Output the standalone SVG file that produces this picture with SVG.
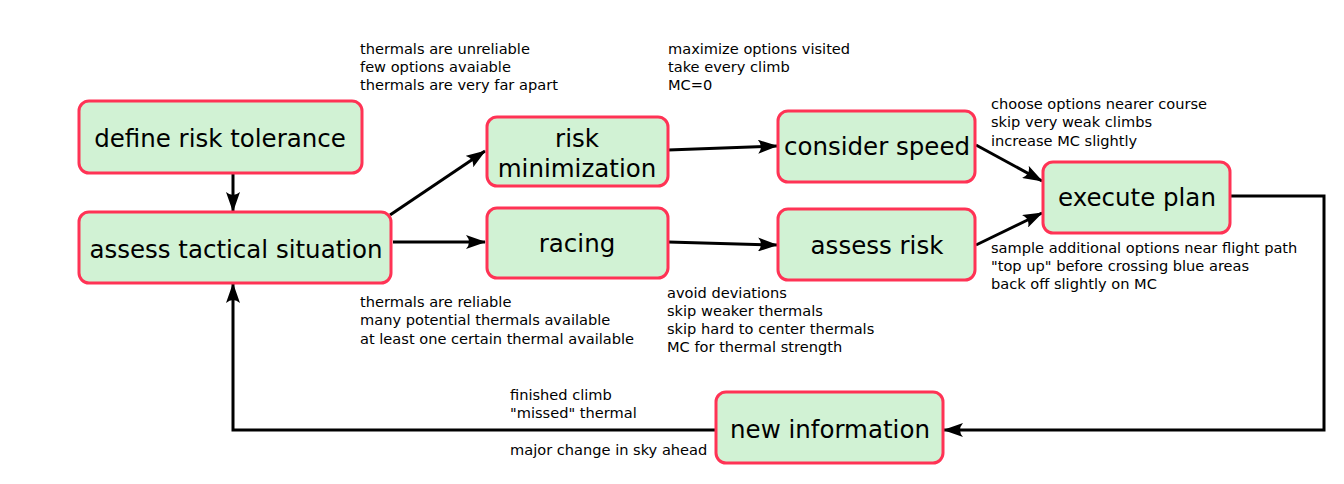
<svg xmlns="http://www.w3.org/2000/svg" width="1344" height="484" viewBox="0 0 1344 484">
<defs>
<style>
.n rect{fill:#d1f2d4;stroke:#ff3355;stroke-width:3}
.n text{font-family:"DejaVu Sans",sans-serif;font-size:24.5px;fill:#000;text-anchor:middle}
.c path{fill:none;stroke:#000;stroke-width:3}
.t{font-family:"DejaVu Sans",sans-serif;font-size:14.6px;fill:#000}
</style>
<marker id="a" viewBox="0 0 20 14" refX="19" refY="7" markerWidth="20" markerHeight="14" markerUnits="userSpaceOnUse" orient="auto">
<path d="M0,0 L20,7 L0,14 Q6,7 0,0 Z" fill="#000"/>
</marker>
</defs>
<rect width="1344" height="484" fill="#fff"/>
<g class="c">
<path d="M233,173 V211" marker-end="url(#a)"/>
<path d="M390,215 L485,151" marker-end="url(#a)"/>
<path d="M393,242 H485" marker-end="url(#a)"/>
<path d="M668,150 L777,146" marker-end="url(#a)"/>
<path d="M668,242 L777,245" marker-end="url(#a)"/>
<path d="M976,145 L1042,181" marker-end="url(#a)"/>
<path d="M976,245 L1042,213" marker-end="url(#a)"/>
<path d="M1231,196 H1324 V430 H944" marker-end="url(#a)"/>
<path d="M715,430 H233 V284" marker-end="url(#a)"/>
</g>
<g id="define" class="n"><rect x="79" y="101" width="283" height="72" rx="10"/><text x="220" y="147">define risk tolerance</text></g>
<g id="assess" class="n"><rect x="79" y="212" width="312" height="71" rx="10"/><text x="236" y="258">assess tactical situation</text></g>
<g id="riskmin" class="n"><rect x="487" y="117" width="181" height="69" rx="10"/><text x="577" y="147">risk</text><text x="577" y="177">minimization</text></g>
<g id="racing" class="n"><rect x="487" y="208" width="181" height="70" rx="10"/><text x="577" y="252">racing</text></g>
<g id="speed" class="n"><rect x="778" y="111" width="197" height="71" rx="10"/><text x="877" y="155">consider speed</text></g>
<g id="assessrisk" class="n"><rect x="778" y="209" width="197" height="71" rx="10"/><text x="877" y="254">assess risk</text></g>
<g id="execute" class="n"><rect x="1043" y="162" width="187" height="71" rx="10"/><text x="1137" y="206">execute plan</text></g>
<g id="newinfo" class="n"><rect x="716" y="392" width="227" height="71" rx="10"/><text x="830" y="438">new information</text></g>
<g id="labels">
<text class="t" x="360" y="54">thermals are unreliable</text>
<text class="t" x="360" y="72">few options avaiable</text>
<text class="t" x="360" y="90">thermals are very far apart</text>
<text class="t" x="668" y="54">maximize options visited</text>
<text class="t" x="668" y="72">take every climb</text>
<text class="t" x="668" y="90">MC=0</text>
<text class="t" x="991" y="109">choose options nearer course</text>
<text class="t" x="991" y="127">skip very weak climbs</text>
<text class="t" x="991" y="146">increase MC slightly</text>
<text class="t" x="991" y="253">sample additional options near flight path</text>
<text class="t" x="991" y="271">"top up" before crossing blue areas</text>
<text class="t" x="991" y="289">back off slightly on MC</text>
<text class="t" x="360" y="307">thermals are reliable</text>
<text class="t" x="360" y="325">many potential thermals available</text>
<text class="t" x="360" y="344">at least one certain thermal available</text>
<text class="t" x="667" y="298">avoid deviations</text>
<text class="t" x="667" y="316">skip weaker thermals</text>
<text class="t" x="667" y="334">skip hard to center thermals</text>
<text class="t" x="667" y="352">MC for thermal strength</text>
<text class="t" x="510" y="400">finished climb</text>
<text class="t" x="510" y="418">"missed" thermal</text>
<text class="t" x="510" y="455">major change in sky ahead</text>
</g>
</svg>
